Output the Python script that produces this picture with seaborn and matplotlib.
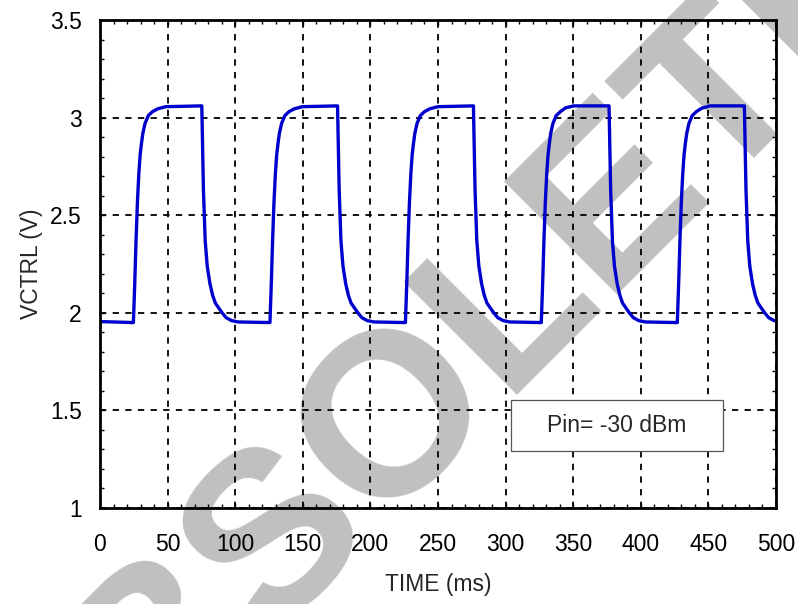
import matplotlib
matplotlib.use('Agg')
import matplotlib.pyplot as plt
import seaborn as sns
import pandas as pd
from matplotlib.patches import Rectangle
from matplotlib.ticker import MultipleLocator

# trace, cycle by cycle (time in ms, VCTRL in V)
time_ms = [0.0,
           24.7, 25.7, 26.7, 27.7, 28.7, 29.7, 30.7, 31.7, 33.3, 35.7, 38.7, 42.7, 48.7,
           75.3, 75.9, 76.5, 77.8, 79.3, 81.3, 83.3, 85.3, 87.3, 90.3, 93.3, 97.3, 102.3,
           125.7, 126.7, 127.7, 128.7, 129.7, 130.7, 131.7, 132.7, 134.3, 136.7, 139.7, 143.7, 149.7,
           175.7, 176.3, 176.9, 178.2, 179.7, 181.7, 183.7, 185.7, 187.7, 190.7, 193.7, 197.7, 202.7,
           225.9, 226.9, 227.9, 228.9, 229.9, 230.9, 231.9, 232.9, 234.5, 236.9, 239.9, 243.9, 249.9,
           276.2, 276.8, 277.4, 278.7, 280.2, 282.2, 284.2, 286.2, 288.2, 291.2, 294.2, 298.2, 303.2,
           326.4, 327.4, 328.4, 329.4, 330.4, 331.4, 332.4, 333.4, 335.0, 337.4, 340.4, 344.4, 350.4,
           376.5, 377.1, 377.7, 379.0, 380.5, 382.5, 384.5, 386.5, 388.5, 391.5, 394.5, 398.5, 403.5,
           427.0, 428.0, 429.0, 430.0, 431.0, 432.0, 433.0, 434.0, 435.6, 438.0, 441.0, 445.0, 451.0,
           476.6, 477.2, 477.8, 479.1, 480.6, 482.6, 484.6, 486.6, 488.6, 491.6, 494.6, 498.6, 500.0]

vctrl = [1.955,
         1.95, 2.15, 2.38, 2.57, 2.71, 2.81, 2.87, 2.92, 2.97, 3.01, 3.03, 3.045, 3.056,
         3.06, 2.85, 2.63, 2.37, 2.24, 2.15, 2.09, 2.05, 2.03, 2.00, 1.975, 1.96, 1.953,
         1.95, 2.15, 2.38, 2.57, 2.71, 2.81, 2.87, 2.92, 2.97, 3.01, 3.03, 3.045, 3.056,
         3.06, 2.85, 2.63, 2.37, 2.24, 2.15, 2.09, 2.05, 2.03, 2.00, 1.975, 1.96, 1.953,
         1.95, 2.15, 2.38, 2.57, 2.71, 2.81, 2.87, 2.92, 2.97, 3.01, 3.03, 3.045, 3.056,
         3.06, 2.85, 2.63, 2.37, 2.24, 2.15, 2.09, 2.05, 2.03, 2.00, 1.975, 1.96, 1.953,
         1.95, 2.15, 2.38, 2.57, 2.71, 2.81, 2.87, 2.92, 2.97, 3.01, 3.03, 3.05, 3.06,
         3.06, 2.85, 2.63, 2.37, 2.24, 2.15, 2.09, 2.05, 2.03, 2.00, 1.975, 1.96, 1.953,
         1.95, 2.15, 2.38, 2.57, 2.71, 2.81, 2.87, 2.92, 2.97, 3.01, 3.03, 3.048, 3.06,
         3.06, 2.85, 2.63, 2.37, 2.24, 2.15, 2.09, 2.05, 2.03, 2.00, 1.975, 1.96, 1.958]

x_ticks = [0, 50, 100, 150, 200, 250, 300, 350, 400, 450, 500]
y_ticks = [1, 1.5, 2, 2.5, 3, 3.5]
y_labels = ['1', '1.5', '2', '2.5', '3', '3.5']
note = 'Pin= -30 dBm'

df = pd.DataFrame({'t': time_ms, 'v': vctrl})

sns.set_style('ticks')
plt.rcParams['font.family'] = ['Liberation Sans', 'DejaVu Sans']

fig = plt.figure(figsize=(7.98, 6.04), dpi=100)
ax = fig.add_axes([100 / 798, 1 - 508 / 604, 676 / 798, 488 / 604])
ax.set_facecolor('none')

# OBSOLETE stamp behind everything, anchored at the start of its baseline
fig.text(0.027, -0.46, 'OBSOLETE', rotation=45, fontsize=167, fontweight='bold',
         color='#c0c0c0', ha='left', va='baseline', zorder=-1,
         rotation_mode='anchor')

sns.lineplot(data=df, x='t', y='v', ax=ax, color='#0000cc', linewidth=2.4,
             estimator=None, sort=False, zorder=3)

ax.set_xlim(0, 500)
ax.set_ylim(1, 3.5)
ax.set_xticks(x_ticks)
ax.set_yticks(y_ticks)
ax.set_yticklabels(y_labels)
ax.xaxis.set_minor_locator(MultipleLocator(10))
ax.yaxis.set_minor_locator(MultipleLocator(0.1))

ax.grid(True, which='major', color='black', linewidth=1.3, linestyle=(0, (3.5, 3.5)))
ax.set_axisbelow(False)

for s in ax.spines.values():
    s.set_visible(True)
    s.set_color('black')
    s.set_linewidth(2.0)
    s.set_zorder(4)

ax.tick_params(which='both', direction='in', top=True, right=True, colors='black')
ax.tick_params(which='major', length=3.5, width=1.0, labelsize=16.5)
ax.tick_params(which='minor', length=3.0, width=1.0)
ax.tick_params(axis='x', which='major', pad=18)
ax.tick_params(axis='y', which='major', pad=13)

ax.set_xlabel('TIME (ms)', fontsize=16.5, labelpad=12)
ax.set_ylabel('VCTRL (V)', fontsize=16.5, labelpad=5)

# annotation box
ax.add_patch(Rectangle((303.7, 1.292), 156.8, 0.261, facecolor='white',
                       edgecolor='#555555', linewidth=0.9, zorder=5))
ax.text(382.1, 1.4225, note, fontsize=16.5, ha='center', va='center', zorder=6)

fig.savefig('out.png', dpi=100)
